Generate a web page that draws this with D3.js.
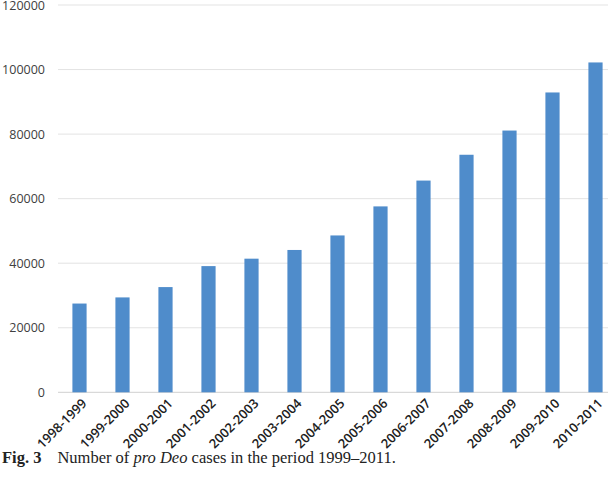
<!DOCTYPE html>
<html><head><meta charset="utf-8">
<script src="https://cdn.jsdelivr.net/npm/d3@7"></script>
<style>body{margin:0;background:#fff}</style>
</head><body>
<svg id="chart" width="608" height="498"></svg>
<script>
// periods and number of cases
let periods = ["1998-1999","1999-2000","2000-2001","2001-2002","2002-2003","2003-2004","2004-2005",
  "2005-2006","2006-2007","2007-2008","2008-2009","2009-2010","2010-2011"];
let cases = [27500,29400,32600,39100,41400,44100,48600,57600,65600,73600,81100,92900,102200];
let yTicks = [0,20000,40000,60000,80000,100000,120000];

let svg = d3.select("#chart");
let x = d3.scaleBand().domain(periods).range([58, 617]).paddingInner(0.67).paddingOuter(0.335);
let y = d3.scaleLinear().domain([0, 120000]).range([392.3, 5]);

// gridlines
svg.selectAll(".grid").data(yTicks).join("line")
  .attr("x1", 58).attr("x2", 608)
  .attr("y1", d => y(d)).attr("y2", d => y(d))
  .attr("stroke", d => d === 0 ? "#d0d0d0" : "#e3e3e3").attr("stroke-width", 1);

// y labels
svg.selectAll(".yl").data(yTicks).join("text")
  .attr("x", 45).attr("y", d => y(d) + 4.5)
  .attr("text-anchor", "end")
  .attr("font-family", "Open Sans, sans-serif").attr("font-size", 12.5).attr("fill", "#404040")
  .text(d => d);

// bars
svg.selectAll(".bar").data(cases).join("rect")
  .attr("x", (d, i) => x(periods[i])).attr("width", x.bandwidth())
  .attr("y", d => y(d)).attr("height", d => y(0) - y(d))
  .attr("fill", "#4f8ccb");

// x labels
svg.selectAll(".xl").data(periods).join("text")
  .attr("transform", d => `translate(${x(d) + x.bandwidth() / 2 + 8},${y(0) + 12}) rotate(-45)`)
  .attr("text-anchor", "end")
  .attr("font-family", "Open Sans, sans-serif").attr("font-size", 13).attr("font-weight", 600)
  .attr("fill", "#202020")
  .text(d => d);

// caption
let cap = svg.append("text").attr("x", 2).attr("y", 463)
  .attr("font-family", "Liberation Serif, serif").attr("font-size", 16.5).attr("fill", "#222");
cap.append("tspan").attr("font-weight", "bold").text("Fig. 3");
cap.append("tspan").attr("dx", 16).text("Number of ");
cap.append("tspan").attr("font-style", "italic").text("pro Deo");
cap.append("tspan").text(" cases in the period 1999–2011.");
</script>
</body></html>
